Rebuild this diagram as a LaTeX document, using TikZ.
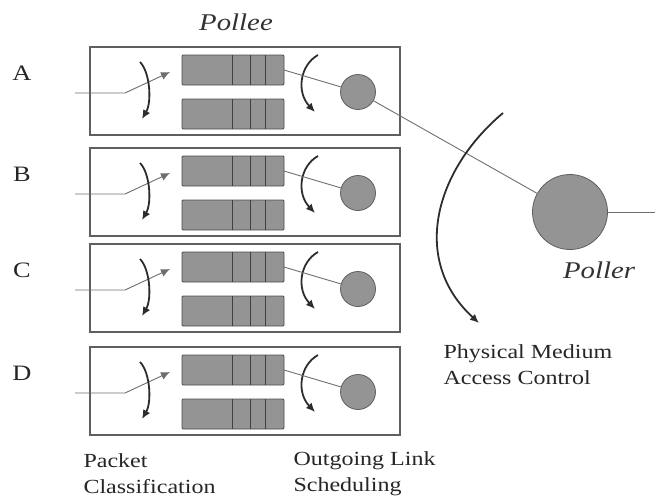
\documentclass[tikz,border=0pt]{standalone}
\usepackage{fontspec}
\setmainfont[FakeStretch=1.2]{Liberation Serif}
\usetikzlibrary{arrows.meta}
\definecolor{qgray}{RGB}{148,148,148}
\definecolor{edgegray}{RGB}{95,95,95}
\definecolor{linegray}{RGB}{110,110,110}
\definecolor{arrowdark}{RGB}{45,45,45}
\tikzset{
  boxst/.style={draw=edgegray, line width=1.1pt, minimum width=310pt, minimum height=88pt, inner sep=0pt, outer sep=0pt},
  queue/.style={draw=edgegray!80!black, fill=qgray, line width=0.8pt, rounded corners=1pt, minimum width=102pt, minimum height=30pt, inner sep=0pt, outer sep=0pt},
  divider/.style={draw=black!75, line width=1pt},
  pc/.style={circle, draw=edgegray, fill=qgray, line width=0.8pt, minimum size=35pt, inner sep=0pt},
  thinline/.style={draw=linegray, line width=0.9pt},
  curvearrow/.style={draw=arrowdark, line width=1.8pt, -{Latex[length=9pt,width=8pt]}},
  inarrow/.style={draw=linegray, line width=0.9pt, -{Latex[length=9pt,width=8pt]}},
  lab/.style={font=\fontsize{22}{24}\selectfont, text=black!85},
  ital/.style={font=\fontsize{24}{26}\selectfont\itshape, text=black!80},
  note/.style={font=\fontsize{20}{26}\selectfont, text=black!85, align=left}
}
\begin{document}
\begin{tikzpicture}[x=1pt,y=-1pt]
\useasboundingbox (0,0) rectangle (655,501);
\foreach \n/\t in {A/47,B/148,C/244,D/347}{
  \node[boxst, anchor=north west] (box\n) at (90,\t) {};
  \node[lab] (lab\n) at (22,\t+26) {\n};
  \node[queue, anchor=north west] (qa\n) at (182,\t+8) {};
  \node[queue, anchor=north west] (qb\n) at (182,\t+52) {};
  \foreach \d in {50,68,83}{
    \draw[divider] ([xshift=\d pt]qa\n.north west) -- ([xshift=\d pt]qa\n.south west);
    \draw[divider] ([xshift=\d pt]qb\n.north west) -- ([xshift=\d pt]qb\n.south west);
  }
  \coordinate (in\n) at (75,\t+46);
  \draw[inarrow] (in\n) -- ++(50,0) -- ([xshift=-12pt,yshift=-2pt]qa\n.west);
  \draw[curvearrow] (140,\t+15) .. controls (150,\t+25) and (152,\t+55) .. (142,\t+72);
  \draw[curvearrow] (318,\t+8) .. controls (300,\t+18) and (296,\t+45) .. (315,\t+65);
  \node[pc] (c\n) at (358,\t+45) {};
  \draw[thinline] (qa\n.east) -- (c\n);
}
\node[pc, minimum size=75pt] (poller) at (570,212) {};
\draw[thinline] (cA) -- (poller);
\coordinate (pout) at (655,212);
\draw[thinline] (poller.east) -- (pout);
\draw[curvearrow] (503,113) .. controls (435,170) and (410,260) .. (479,323);
\node[ital] (pollee) at (236,22) {Pollee};
\node[ital] (pollerlab) at (599,270) {Poller};
\node[note, anchor=west] (pmac) at (440,365) {Physical Medium\\Access Control};
\node[note, anchor=west] (pc) at (80,474) {Packet\\Classification};
\node[note, anchor=west] (ols) at (290,474) {Outgoing Link\\Scheduling};
\end{tikzpicture}
\end{document}
